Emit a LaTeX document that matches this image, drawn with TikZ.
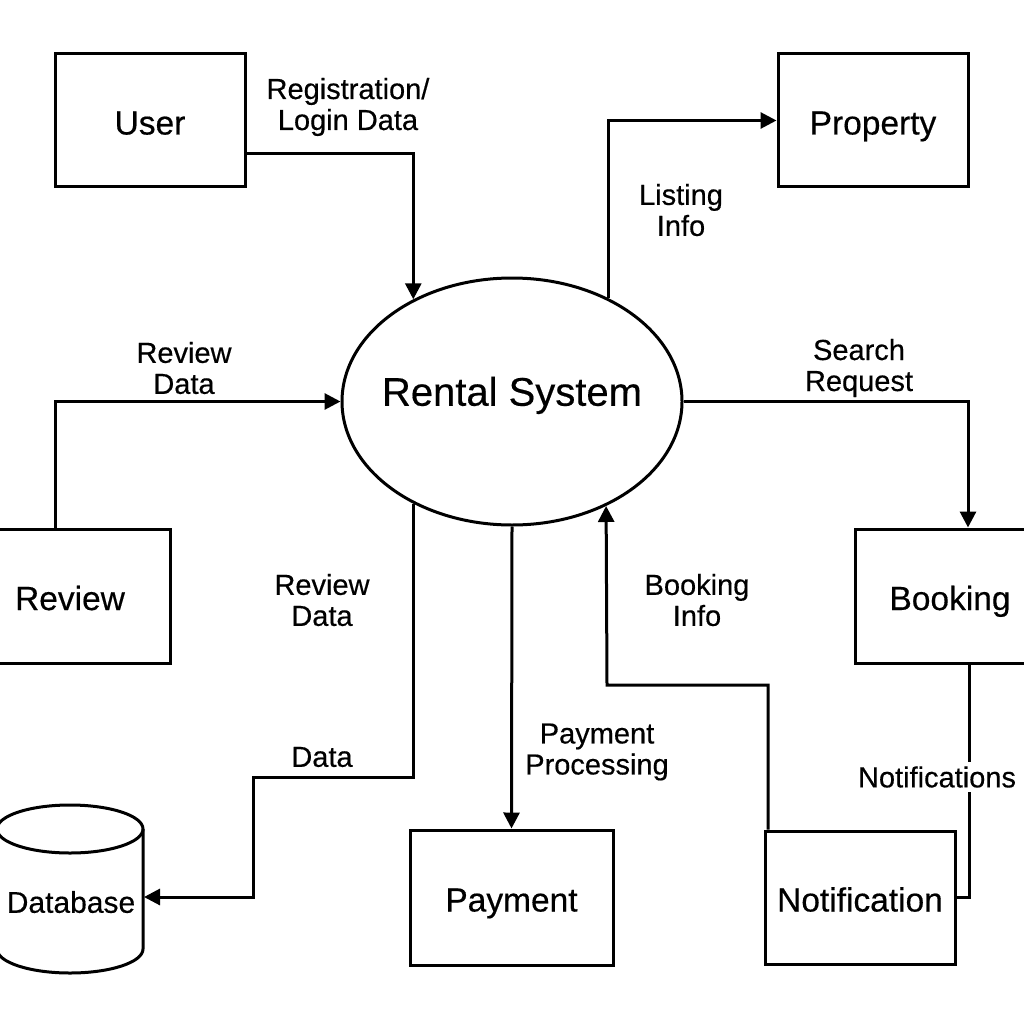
\documentclass[tikz,border=0pt]{standalone}
\usepackage{fontspec}
\setmainfont{Liberation Sans}[FakeBold=0.4]
\usetikzlibrary{arrows.meta,shapes.geometric}
\begin{document}
\begin{tikzpicture}[x=1pt,y=-1pt,
 box/.style={draw,line width=3pt,rectangle,font=\fontsize{33.5}{36}\selectfont,inner sep=0pt,text height=28pt,text depth=0pt},
 lbl/.style={align=center,font=\fontsize{29}{31}\selectfont,inner sep=1pt},
 flow/.style={line width=3pt},
 arr/.style={flow,-{Triangle[length=16pt,width=16pt]}},
]
\useasboundingbox (0,0) rectangle (1024,1024);
\fill[white] (0,0) rectangle (1024,1024);
\clip (0,0) rectangle (1024,1024);

% boxes
\node[box,minimum width=190pt,minimum height=133pt] (user) at (150,120.5) {User};
\node[box,minimum width=190pt,minimum height=133pt] (prop) at (873,120.5) {Property};
\node[box,minimum width=200pt,minimum height=134pt] (rev) at (70,596) {Review};
\node[box,minimum width=190pt,minimum height=134pt] (book) at (950,596) {Booking};
\node[box,minimum width=203pt,minimum height=135pt] (pay) at (511.5,897.5) {Payment};
\node[box,minimum width=190pt,minimum height=133pt] (notif) at (860,897.5) {Notification};

% central process
\node[ellipse,draw,line width=3pt,minimum width=340pt,minimum height=247pt,inner sep=0pt] (sys) at (512,401.5) {};
\node[font=\fontsize{40}{44}\selectfont,inner sep=0pt,text height=28.5pt,text depth=0pt] (title) at (512,391.5) {Rental System};

% database cylinder
\draw[line width=3pt] (70,829) ellipse [x radius=73, y radius=24];
\draw[line width=3pt] (-3,829) -- (-3,949) arc[start angle=180,end angle=0,x radius=73,y radius=24] -- (143,829);
\node[font=\fontsize{30}{32}\selectfont,inner sep=0pt,text height=21.5pt,text depth=0pt] (db) at (71,902) {Database};
\coordinate (dbin) at (144,897);

% connectors
\coordinate (k1) at (253,777);
\coordinate (k2) at (607,685);
\draw[arr] ([yshift=35pt]user.south east) -| (sys.134.2);
\draw[arr] (sys.47.6) |- (prop.west);
\draw[arr] ([xshift=-15pt]rev.north) |- (sys.west);
\draw[arr] (sys.east) -| ([xshift=18pt]book.north);
\draw[arr] (sys.226.3) |- (k1) |- (dbin);
\draw[arr] (sys.south) -- (pay.north);
\draw[arr] ([xshift=-92pt]notif.north) |- (k2) -- (sys.312.9);
\draw[flow] ([xshift=19pt]book.south) |- (notif.east);

% labels
\node[lbl] (l1) at (348,107) {Registration/\\Login Data};
\node[lbl] (l2) at (681,210) {Listing\\Info};
\node[lbl] (l3) at (184,368) {Review\\Data};
\node[lbl] (l4) at (859,368) {Search\\Request};
\node[lbl] (l5) at (322,600) {Review\\Data};
\node[lbl] (l6) at (697,600) {Booking\\Info};
\node[lbl] (l7) at (322,757) {Data};
\node[lbl] (l8) at (597,752) {Payment\\Processing};
\node[lbl,fill=white,inner sep=4pt] (l9) at (937,777) {Notifications};
\end{tikzpicture}
\end{document}
